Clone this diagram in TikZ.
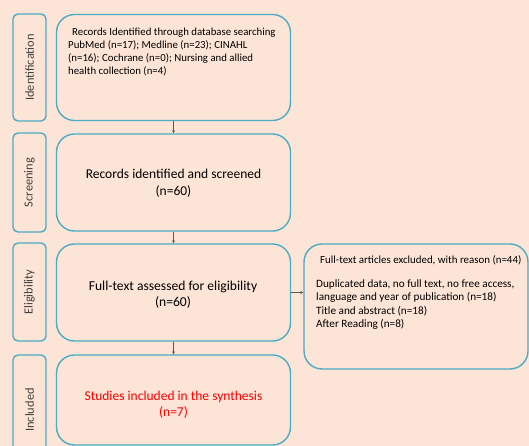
\documentclass[tikz,border=0pt]{standalone}
\usepackage{fontspec}
\setmainfont{Carlito}
\usetikzlibrary{arrows.meta}
\definecolor{bgpeach}{HTML}{FCE4D6}
\definecolor{boxblue}{HTML}{4BACC6}
\definecolor{arrowgrey}{HTML}{4F6152}
\definecolor{sidegrey}{HTML}{404040}
\begin{document}
\begin{tikzpicture}[x=1pt,y=-1pt,
  mainbox/.style={draw=boxblue,line width=1.4pt,rounded corners=18pt,fill=bgpeach,inner sep=0pt},
  sidebox/.style={draw=boxblue,line width=1.4pt,rounded corners=5pt,fill=bgpeach,inner sep=0pt},
  sidelabel/.style={rotate=90,font=\fontsize{12.4}{14}\selectfont,text=sidegrey},
  flow/.style={draw=arrowgrey,line width=0.6pt,-{Stealth[length=3pt,width=3pt]}}]
\useasboundingbox (0,0) rectangle (529,446);
\fill[bgpeach] (0,0) rectangle (529,446);
\begin{scope}
\clip (0,0) rectangle (529,446);
% side boxes
\node[sidebox,minimum width=33pt,minimum height=107pt] (sid) at (29.5,67.5) {};
\node[sidebox,minimum width=33pt,minimum height=99pt] (sscr) at (29.5,182.5) {};
\node[sidebox,minimum width=33pt,minimum height=98pt] (selig) at (29.5,292) {};
\node[sidebox,minimum width=33pt,minimum height=110pt] (sincl) at (29.5,410) {};
\node[sidelabel] (lid) at (sid.center) {Identification};
\node[sidelabel] (lscr) at (sscr.center) {Screening};
\node[sidelabel] (lelig) at (selig.center) {Eligibility};
\node[sidelabel] (lincl) at (sincl.center) {Included};
% main boxes
\node[mainbox,minimum width=234pt,minimum height=106pt] (b1) at (173.5,67.5) {};
\node[mainbox,minimum width=234pt,minimum height=97pt] (b2) at (173.5,182.5) {};
\node[mainbox,minimum width=234pt,minimum height=97pt] (b3) at (173.5,292.5) {};
\node[mainbox,minimum width=234pt,minimum height=90pt] (b4) at (173.5,400) {};
\node[mainbox,minimum width=224pt,minimum height=125pt] (ex) at (416,306.5) {};
% texts
\node[anchor=north west,align=left,inner sep=0pt,font=\fontsize{10.8}{13}\selectfont] (t1) at (68,27.5)
 {\hspace{4pt}Records Identified through database searching\\PubMed (n=17); Medline (n=23); CINAHL\\(n=16); Cochrane (n=0); Nursing and allied\\health collection (n=4)};
\node[align=center,inner sep=0pt,font=\fontsize{13.5}{17}\selectfont] (t2) at (173.5,183.5) {Records identified and screened\\(n=60)};
\node[align=center,inner sep=0pt,font=\fontsize{13.6}{16}\selectfont] (t3) at (173,294.5) {Full-text assessed for eligibility\\(n=60)};
\node[align=center,inner sep=0pt,font=\fontsize{13.5}{16}\selectfont,text=red] (t4) at (173.5,405) {Studies included in the synthesis\\(n=7)};
\node[anchor=north west,inner sep=0pt,font=\fontsize{10.9}{12}\selectfont] (t5a) at (320,255) {Full-text articles excluded, with reason (n=44)};
\node[anchor=north west,align=left,inner sep=0pt,font=\fontsize{11.2}{13.3}\selectfont] (t5b) at (316,279.5)
 {Duplicated data, no full text, no free access,\\language and year of publication (n=18)\\Title and abstract (n=18)\\After Reading (n=8)};
% arrows
\draw[flow] (b1.south) -- (b2.north);
\draw[flow] (b2.south) -- (b3.north);
\draw[flow] (b3.south) -- (b4.north);
\draw[flow] (b3.east) -- (b3.east -| ex.west);
\end{scope}
\end{tikzpicture}
\end{document}
